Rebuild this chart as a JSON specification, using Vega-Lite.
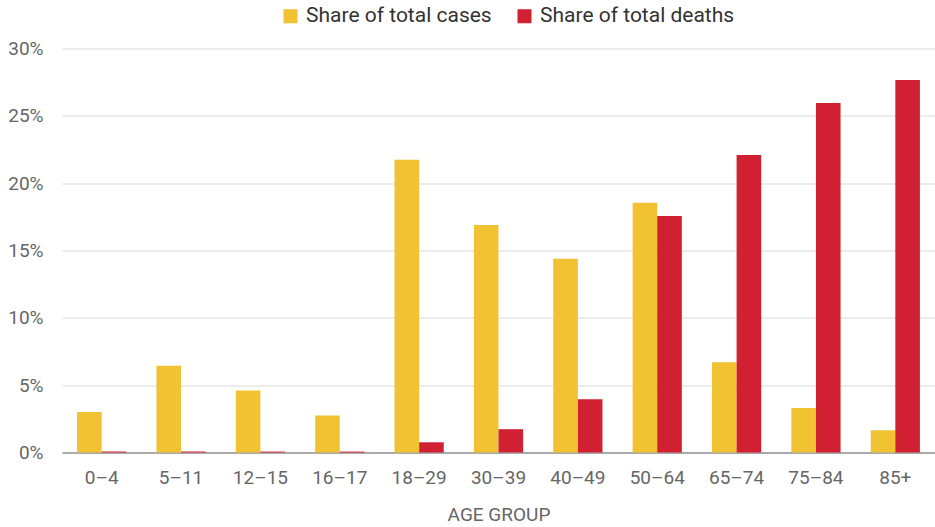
{
  "$schema": "https://vega.github.io/schema/vega-lite/v6.json",
  "width": 873,
  "height": 404,
  "autosize": {"type": "none"},
  "padding": {"left": 62, "top": 48.5, "right": 0, "bottom": 74.5},
  "background": "white",
  "config": {"view": {"stroke": null}, "font": "Roboto"},
  "data": {
    "values": [
      {"age": "0–4", "series": "Share of total cases", "value": 3.0},
      {"age": "0–4", "series": "Share of total deaths", "value": 0.07},
      {"age": "5–11", "series": "Share of total cases", "value": 6.44},
      {"age": "5–11", "series": "Share of total deaths", "value": 0.07},
      {"age": "12–15", "series": "Share of total cases", "value": 4.6},
      {"age": "12–15", "series": "Share of total deaths", "value": 0.07},
      {"age": "16–17", "series": "Share of total cases", "value": 2.75},
      {"age": "16–17", "series": "Share of total deaths", "value": 0.07},
      {"age": "18–29", "series": "Share of total cases", "value": 21.73},
      {"age": "18–29", "series": "Share of total deaths", "value": 0.76},
      {"age": "30–39", "series": "Share of total cases", "value": 16.9},
      {"age": "30–39", "series": "Share of total deaths", "value": 1.73},
      {"age": "40–49", "series": "Share of total cases", "value": 14.38},
      {"age": "40–49", "series": "Share of total deaths", "value": 3.95},
      {"age": "50–64", "series": "Share of total cases", "value": 18.54},
      {"age": "50–64", "series": "Share of total deaths", "value": 17.57},
      {"age": "65–74", "series": "Share of total cases", "value": 6.7},
      {"age": "65–74", "series": "Share of total deaths", "value": 22.1},
      {"age": "75–84", "series": "Share of total cases", "value": 3.3},
      {"age": "75–84", "series": "Share of total deaths", "value": 25.96},
      {"age": "85+", "series": "Share of total cases", "value": 1.65},
      {"age": "85+", "series": "Share of total deaths", "value": 27.67}
    ]
  },
  "mark": {"type": "bar"},
  "encoding": {
    "x": {
      "field": "age",
      "type": "nominal",
      "sort": null,
      "scale": {"paddingInner": 0.38, "paddingOuter": 0.19},
      "axis": {
        "title": "AGE GROUP",
        "titleFont": "Roboto",
        "titleFontSize": 19,
        "titleFontWeight": "normal",
        "titleColor": "#666666",
        "titlePadding": 18,
        "labelAngle": 0,
        "labelFontSize": 19,
        "labelColor": "#666666",
        "labelPadding": 16,
        "ticks": false,
        "domainColor": "#aaaaaa",
        "domainWidth": 2,
        "grid": false
      }
    },
    "xOffset": {"field": "series", "sort": ["Share of total cases", "Share of total deaths"]},
    "y": {
      "field": "value",
      "type": "quantitative",
      "scale": {"domain": [0, 30], "nice": false},
      "axis": {
        "title": null,
        "values": [0, 5, 10, 15, 20, 25, 30],
        "labelExpr": "datum.value + '%'",
        "labelFontSize": 19,
        "labelColor": "#666666",
        "labelPadding": 19,
        "ticks": false,
        "domain": false,
        "gridColor": "#e6e6e6",
        "gridWidth": 1.5
      }
    },
    "color": {
      "field": "series",
      "type": "nominal",
      "scale": {"domain": ["Share of total cases", "Share of total deaths"], "range": ["#F1C232", "#D12032"]},
      "legend": {
        "title": null,
        "orient": "none",
        "direction": "horizontal",
        "legendX": 218,
        "legendY": -43,
        "padding": 0,
        "symbolType": "square",
        "symbolSize": 196,
        "symbolStrokeWidth": 0,
        "labelFontSize": 21,
        "labelColor": "#333333",
        "labelOffset": 5,
        "labelLimit": 400,
        "columnPadding": 22
      }
    }
  }
}
